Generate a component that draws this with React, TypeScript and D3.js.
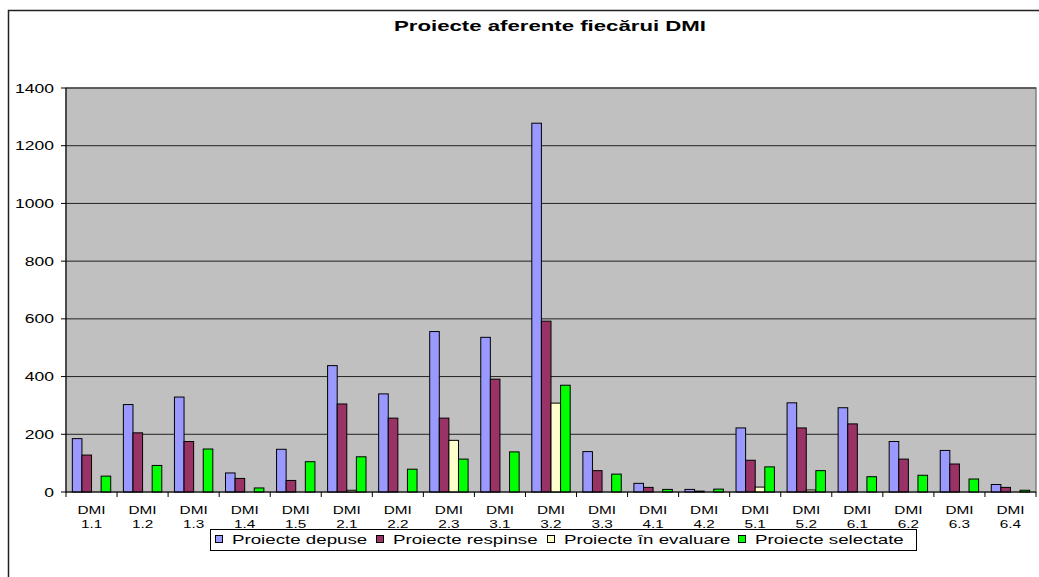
import React from "react";
import * as d3 from "d3";

const categories = ["1.1","1.2","1.3","1.4","1.5","2.1","2.2","2.3","3.1","3.2","3.3","4.1","4.2","5.1","5.2","6.1","6.2","6.3","6.4"];
const seriesNames = ["Proiecte depuse","Proiecte respinse","Proiecte în evaluare","Proiecte selectate"];
const depuse =    [185, 303, 329, 66, 148, 438, 340, 556, 536, 1278, 140, 30, 9, 222, 309, 292, 175, 144, 26];
const respinse =  [128, 205, 175, 47, 40, 305, 256, 256, 391, 592, 74, 16, 3, 110, 222, 236, 114, 97, 16];
const evaluare =  [0, 0, 0, 0, 0, 6, 0, 179, 0, 308, 0, 0, 0, 17, 7, 0, 0, 0, 0];
const selectate = [55, 92, 149, 14, 105, 122, 79, 114, 139, 370, 62, 9, 10, 87, 74, 53, 58, 45, 6];
const yTicks = [0, 200, 400, 600, 800, 1000, 1200, 1400];
const colors = ["#9999FF", "#993366", "#FFFFCC", "#00FF00"];

const W = 1039, H = 577;
const plot = { left: 66, right: 1036, top: 88, bottom: 492 };
const font = "Arial, 'Liberation Sans', sans-serif";

function ST({ x, y, sx, size, anchor = "start", weight = "normal", children }: any) {
  return (
    <g transform={`translate(${x},${y}) scale(${sx},1)`}>
      <text x={0} y={0} textAnchor={anchor} fontSize={size} fontWeight={weight} fill="#000">{children}</text>
    </g>
  );
}

export default function App() {
  const series = [depuse, respinse, evaluare, selectate];
  const x = d3.scaleBand<string>().domain(categories).range([plot.left, plot.right]).paddingInner(0).paddingOuter(0);
  const inner = d3.scaleBand<number>().domain([0, 1, 2, 3]).range([0, x.bandwidth()]).paddingInner(0).paddingOuter(0.66);
  const y = d3.scaleLinear().domain([0, 1400]).range([plot.bottom, plot.top]);

  const legendX = [215, 376, 547, 738];

  return (
    <svg width={W} height={H} style={{ position: "absolute", left: 0, top: 0 }} fontFamily={font}>
      <rect x={0} y={0} width={W} height={H} fill="#fff" />
      <path d={`M8.5,${H} V10.5 H${W}`} fill="none" stroke="#222" strokeWidth={1.5} />
      <ST x={550} y={31} sx={1.48} size={15} anchor="middle" weight="bold">Proiecte aferente fiecărui DMI</ST>

      <rect x={plot.left} y={plot.top} width={plot.right - plot.left} height={plot.bottom - plot.top} fill="#C0C0C0" stroke="#808080" strokeWidth={1.5} />
      {yTicks.filter(t => t > 0).map(t => (
        <line key={t} x1={plot.left} x2={plot.right} y1={y(t)} y2={y(t)} stroke="#222" strokeWidth={1} />
      ))}

      {categories.map((c, i) => (
        <g key={c}>
          {series.map((s, k) => s[i] > 0 ? (
            <rect key={k} x={(x(c) as number) + (inner(k) as number)} y={y(s[i])} width={inner.bandwidth()} height={y(0) - y(s[i])}
              fill={colors[k]} stroke="#000" strokeWidth={1} />
          ) : null)}
        </g>
      ))}

      <line x1={plot.left} x2={plot.left} y1={plot.top} y2={plot.bottom} stroke="#000" strokeWidth={1} />
      {yTicks.map(t => (
        <g key={t}>
          <line x1={plot.left - 5} x2={plot.left} y1={y(t)} y2={y(t)} stroke="#000" />
          <ST x={plot.left - 12} y={y(t) + 4.5} sx={1.46} size={12} anchor="end">{t}</ST>
        </g>
      ))}

      <line x1={plot.left} x2={plot.right} y1={plot.bottom} y2={plot.bottom} stroke="#000" strokeWidth={1} />
      {categories.map((c) => (
        <g key={c}>
          <line x1={x(c) as number} x2={x(c) as number} y1={plot.bottom} y2={plot.bottom + 5} stroke="#000" />
          <ST x={(x(c) as number) + x.bandwidth() / 2} y={513.5} sx={1.46} size={10.5} anchor="middle">DMI</ST>
          <ST x={(x(c) as number) + x.bandwidth() / 2} y={528} sx={1.46} size={10.5} anchor="middle">{c}</ST>
        </g>
      ))}
      <line x1={plot.right} x2={plot.right} y1={plot.bottom} y2={plot.bottom + 5} stroke="#000" />

      <rect x={210.5} y={529.5} width={706} height={21} fill="#fff" stroke="#000" strokeWidth={1} />
      {seriesNames.map((n, k) => (
        <g key={n}>
          <rect x={legendX[k] + 0.5} y={535.5} width={7} height={7} fill={colors[k]} stroke="#000" strokeWidth={1} />
          <ST x={legendX[k] + 17} y={544} sx={1.56} size={12}>{n}</ST>
        </g>
      ))}
    </svg>
  );
}
